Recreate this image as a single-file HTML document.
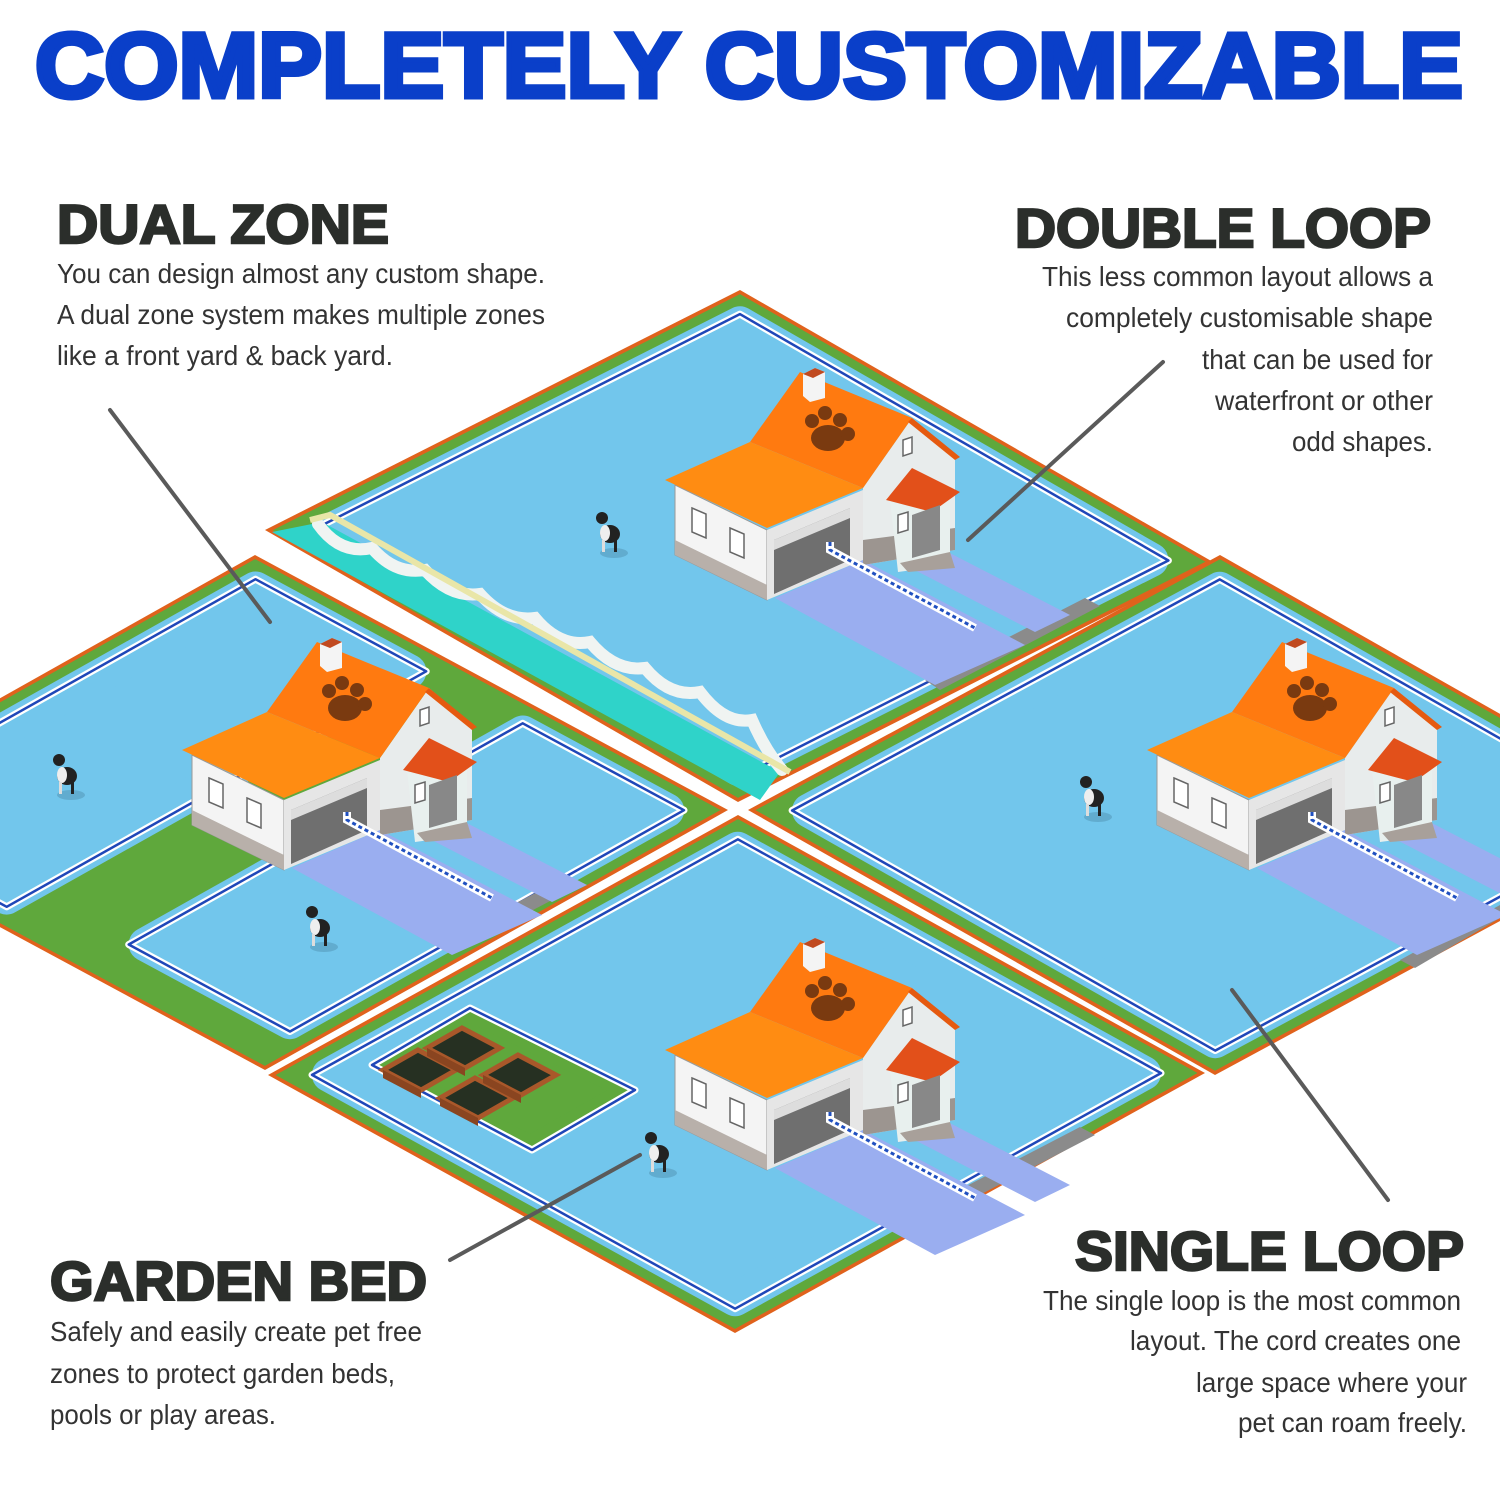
<!DOCTYPE html>
<html><head><meta charset="utf-8"><style>
html,body{margin:0;padding:0;background:#fff;width:1500px;height:1500px;overflow:hidden}
svg{display:block}
</style></head><body>
<svg id="s" width="1500" height="1500" viewBox="0 0 1500 1500" xmlns="http://www.w3.org/2000/svg">
<g id="tiles"></g>
<g font-family="Liberation Sans, Arial, sans-serif">
<text x="35" y="97" font-size="92" font-weight="bold" fill="#0a3fc9" stroke="#0a3fc9" stroke-width="5" textLength="1428" lengthAdjust="spacingAndGlyphs">COMPLETELY CUSTOMIZABLE</text>
<g fill="#2b2e2b" stroke="#2b2e2b" stroke-width="2.5" font-weight="bold" font-size="55">
<text x="57" y="243" textLength="332" lengthAdjust="spacingAndGlyphs">DUAL ZONE</text>
<text x="1015" y="247" textLength="416" lengthAdjust="spacingAndGlyphs">DOUBLE LOOP</text>
<text x="1075" y="1270" textLength="389" lengthAdjust="spacingAndGlyphs">SINGLE LOOP</text>
<text x="50" y="1300" textLength="377" lengthAdjust="spacingAndGlyphs">GARDEN BED</text>
</g>
<g fill="#333" font-size="28">
<text x="57" y="283" textLength="488" lengthAdjust="spacingAndGlyphs">You can design almost any custom shape.</text>
<text x="57" y="324" textLength="488" lengthAdjust="spacingAndGlyphs">A dual zone system makes multiple zones</text>
<text x="57" y="365" textLength="336" lengthAdjust="spacingAndGlyphs">like a front yard &amp; back yard.</text>
<text x="1042" y="286" textLength="391" lengthAdjust="spacingAndGlyphs">This less common layout allows a</text>
<text x="1066" y="327" textLength="367" lengthAdjust="spacingAndGlyphs">completely customisable shape</text>
<text x="1202" y="369" textLength="231" lengthAdjust="spacingAndGlyphs">that can be used for</text>
<text x="1215" y="410" textLength="218" lengthAdjust="spacingAndGlyphs">waterfront or other</text>
<text x="1292" y="451" textLength="141" lengthAdjust="spacingAndGlyphs">odd shapes.</text>
<text x="1043" y="1310" textLength="418" lengthAdjust="spacingAndGlyphs">The single loop is the most common</text>
<text x="1130" y="1350" textLength="331" lengthAdjust="spacingAndGlyphs">layout. The cord creates one</text>
<text x="1196" y="1392" textLength="271" lengthAdjust="spacingAndGlyphs">large space where your</text>
<text x="1238" y="1432" textLength="229" lengthAdjust="spacingAndGlyphs">pet can roam freely.</text>
<text x="50" y="1341" textLength="372" lengthAdjust="spacingAndGlyphs">Safely and easily create pet free</text>
<text x="50" y="1383" textLength="345" lengthAdjust="spacingAndGlyphs">zones to protect garden beds,</text>
<text x="50" y="1424" textLength="226" lengthAdjust="spacingAndGlyphs">pools or play areas.</text>
</g>
</g>
<g stroke="#5a5a5a" stroke-width="4" stroke-linecap="round">
<line x1="110" y1="410" x2="270" y2="622"/>
<line x1="1163" y1="362" x2="968" y2="540"/>
<line x1="1232" y1="990" x2="1388" y2="1200"/>
<line x1="450" y1="1260" x2="640" y2="1155"/>
</g>
</svg>
<script>
var NS="http://www.w3.org/2000/svg";
var G=document.getElementById('tiles');
function el(tag,attrs,parent){var e=document.createElementNS(NS,tag);for(var k in attrs)e.setAttribute(k,attrs[k]);(parent||G).appendChild(e);return e;}
function mk(L,T,B){return function(a,b){return [L[0]+a*(T[0]-L[0])+b*(B[0]-L[0]),L[1]+a*(T[1]-L[1])+b*(B[1]-L[1])];};}
function pts(arr){return arr.map(function(p){return p[0].toFixed(1)+','+p[1].toFixed(1)}).join(' ');}
function rect(P,a0,a1,b0,b1){return [P(a0,b0),P(a1,b0),P(a1,b1),P(a0,b1)];}
function poly(p,attrs){attrs.points=pts(p);return el('polygon',attrs);}
function wire(P,a0,a1,b0,b1){
  var w=rect(P,a0,a1,b0,b1);
  poly(w,{fill:'none',stroke:'#fff','stroke-width':7,'stroke-linejoin':'round'});
  poly(w,{fill:'none',stroke:'#1f47b8','stroke-width':2.5,'stroke-linejoin':'round'});
}
function tile(L,T,B){
  var P=mk(L,T,B);
  poly(rect(P,0,1,0,1),{fill:'#e0621c'});
  poly(rect(P,0.008,0.992,0.008,0.992),{fill:'#5fa83c'});
  return P;
}
function blue(P,a0,a1,b0,b1){
  poly(rect(P,a0+0.03,a1-0.03,b0+0.03,b1-0.03),{fill:'#72c6ec',stroke:'#72c6ec','stroke-width':34,'stroke-linejoin':'round'});
  wire(P,a0+0.012,a1-0.012,b0+0.012,b1-0.012);
}
var P1=tile([265,530],[740,290],[738,802]);
blue(P1,0.035,0.965,0.035,0.965);
poly([[272,532],[322,522],[780,772],[760,800]],{fill:'#2fd3c9'});
el('path',{d:'M318,524 Q340,555 372,548 Q395,575 425,570 Q450,598 480,594 Q505,622 535,618 Q560,648 590,642 Q615,672 645,668 Q670,698 700,692 Q725,725 752,720 Q765,750 782,770',fill:'none',stroke:'#f0f4f2','stroke-width':12,'stroke-linecap':'round'});
el('path',{d:'M310,520 L330,515 L790,772',fill:'none',stroke:'#e9e6a8','stroke-width':6});
poly([[925,680],[1085,598],[1100,606],[940,690]],{fill:'#8b8b8b'});
var P2=tile([-208,815],[255,555],[265,1070]);
blue(P2,0.035,0.965,0.035,0.42);
blue(P2,0.09,0.965,0.6,0.965);
poly([[455,935],[560,880],[575,888],[470,943]],{fill:'#8b8b8b'});
var P3=tile([268,1075],[738,815],[735,1333]);
blue(P3,0.035,0.965,0.035,0.965);
poly([[930,1205],[1080,1127],[1095,1135],[945,1213]],{fill:'#8b8b8b'});
poly([[383,1065],[470,1015],[622,1090],[530,1142]],{fill:'#5fa83c',stroke:'#5fa83c','stroke-width':14,'stroke-linejoin':'round'});
poly([[372,1065],[470,1008],[635,1090],[532,1150]],{fill:'none',stroke:'#fff','stroke-width':7,'stroke-linejoin':'round'});
poly([[372,1065],[470,1008],[635,1090],[532,1150]],{fill:'none',stroke:'#1f47b8','stroke-width':2.5,'stroke-linejoin':'round'});
[[418,1070],[462,1048],[475,1098],[518,1075]].forEach(function(c){
  poly([[c[0]-35,c[1]],[c[0],c[1]-20],[c[0]+38,c[1]],[c[0]+3,c[1]+20]],{fill:'#263022',stroke:'#a9582a','stroke-width':5});
  poly([[c[0]-35,c[1]],[c[0]+3,c[1]+20],[c[0]+3,c[1]+28],[c[0]-35,c[1]+8]],{fill:'#8a4520'});
});
var P4=tile([748,810],[1220,555],[1215,1075]);
blue(P4,0.035,0.965,0.035,0.965);
poly([[1400,960],[1500,905],[1500,918],[1415,968]],{fill:'#8b8b8b'});

function house(ox,oy){
  var g=el('g',{transform:'translate('+ox+','+oy+')'});
  function p(a,at){return el('polygon',Object.assign({points:a},at),g);}
  p('125,238 213,200 375,285 285,325',{fill:'#9aaef0'});
  p('255,205 290,188 420,255 385,272',{fill:'#9aaef0'});
  p('25,125 117,170 117,240 25,195',{fill:'#f4f4f4',stroke:'#999','stroke-width':1});
  p('25,180 117,225 117,240 25,195',{fill:'#b8b0aa'});
  p('117,170 213,130 213,200 117,240',{fill:'#e6e6e6'});
  p('124,180 200,148 200,200 124,234',{fill:'#6f6f6f'});
  p('124,180 200,148 200,158 124,190',{fill:'#ddd'});
  p('213,128 262,58 305,95 305,190 213,205',{fill:'#e8ecec'});
  p('213,180 305,168 305,190 213,205',{fill:'#9c9590'});
  p('100,82 150,12 262,58 213,128',{fill:'#ff7a10'});
  p('262,58 310,97 305,100 258,62',{fill:'#e55a10'});
  p('15,120 100,82 213,128 117,168',{fill:'#ff8c12'});
  p('153,14 165,8 175,12 175,38 160,42 153,36',{fill:'#f4f4f4'});
  p('153,14 165,8 175,12 163,18',{fill:'#c04a20'});
  p('240,140 268,112 300,132 300,205 248,212',{fill:'#e8f0ee'});
  p('236,140 262,108 310,132 282,152',{fill:'#e2501a'});
  p('262,155 290,145 290,190 262,198',{fill:'#888'});
  p('250,203 300,192 305,208 258,212',{fill:'#a8a09a'});
  [[42,148],[80,168]].forEach(function(w){p((w[0])+','+(w[1])+' '+(w[0]+14)+','+(w[1]+6)+' '+(w[0]+14)+','+(w[1]+30)+' '+w[0]+','+(w[1]+24),{fill:'#fff',stroke:'#666','stroke-width':1.5});});
  p('248,155 258,152 258,170 248,173',{fill:'#fff',stroke:'#666','stroke-width':1.5});
  p('253,80 262,77 262,93 253,96',{fill:'#fff',stroke:'#666','stroke-width':1.5});
  var pw=el('g',{fill:'#7a3a10'},g);
  el('ellipse',{cx:178,cy:78,rx:17,ry:13},pw);
  el('circle',{cx:162,cy:61,r:7},pw);el('circle',{cx:175,cy:53,r:7},pw);
  el('circle',{cx:190,cy:60,r:7},pw);el('circle',{cx:198,cy:74,r:7},pw);
  el('path',{d:'M180,182 L180,190 L325,268',fill:'none',stroke:'#fff','stroke-width':8},g);
  el('path',{d:'M180,182 L180,190 L325,268',fill:'none',stroke:'#2050c0','stroke-width':3,'stroke-dasharray':'4 3'},g);
}
house(650,360);house(167,630);house(1132,630);house(650,930);
function dog(x,y){
  var g=el('g',{transform:'translate('+x+','+y+')'});
  el('ellipse',{cx:6,cy:25,rx:14,ry:5,fill:'#3a6f8a',opacity:0.3},g);
  el('ellipse',{cx:2,cy:6,rx:10,ry:9,fill:'#222'},g);
  el('ellipse',{cx:-3,cy:5,rx:5,ry:8,fill:'#eee'},g);
  el('circle',{cx:-6,cy:-10,r:6,fill:'#222'},g);
  el('rect',{x:-6,y:12,width:3,height:12,fill:'#ddd'},g);
  el('rect',{x:6,y:12,width:3,height:12,fill:'#222'},g);
}
dog(608,528);dog(65,770);dog(318,922);dog(1092,792);dog(657,1148);
</script>
</body></html>
